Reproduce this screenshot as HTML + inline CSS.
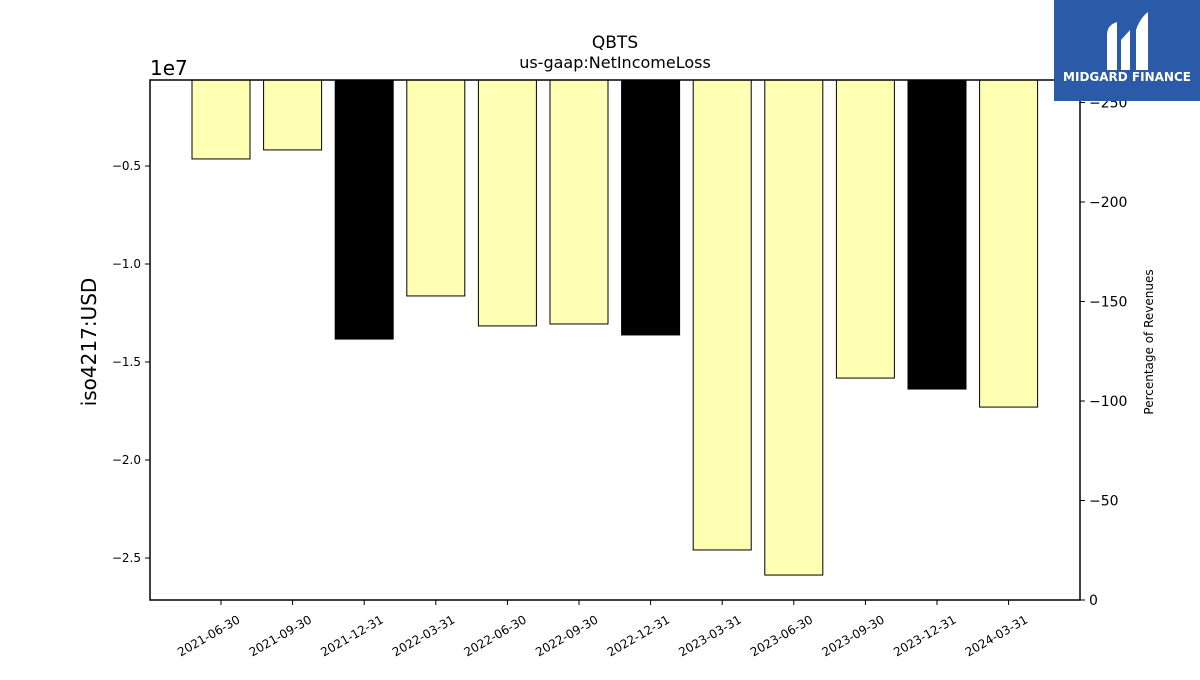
<!DOCTYPE html>
<html><head><meta charset="utf-8"><style>
body{margin:0;background:#fff;width:1200px;height:675px;overflow:hidden;font-family:"Liberation Sans","DejaVu Sans",sans-serif}
</style></head><body>
<svg id="chart" width="1200" height="675" xmlns="http://www.w3.org/2000/svg" font-family="DejaVu Sans, Liberation Sans, sans-serif">
<text x="615" y="48" text-anchor="middle" font-size="17">QBTS</text>
<text x="615" y="68" text-anchor="middle" font-size="16">us-gaap:NetIncomeLoss</text>
<text x="150" y="75" font-size="20">1e7</text>
<text transform="translate(96,342) rotate(-90)" text-anchor="middle" font-size="20">iso4217:USD</text>
<text transform="translate(1153,342) rotate(-90)" text-anchor="middle" font-size="12">Percentage of Revenues</text>
<g id="bars"></g><g id="axes"></g>
<g>
<rect x="1054" y="0" width="146" height="101" fill="#2b5aa8"/>
<path d="M1107 70 V35 Q1107 25 1117 22 V70 Z M1121 40 L1130 30 V70 H1121 Z M1136 30 Q1140 18 1148 12 V70 H1136 Z" fill="#fff"/>
<text x="1127" y="81" text-anchor="middle" font-size="12" font-weight="bold" fill="#fff">MIDGARD FINANCE</text>
</g>
</svg>
<script>
const categories=["2021-06-30","2021-09-30","2021-12-31","2022-03-31","2022-06-30","2022-09-30","2022-12-31","2023-03-31","2023-06-30","2023-09-30","2023-12-31","2024-03-31"];
const values=[-0.464,-0.418,-1.383,-1.163,-1.316,-1.306,-1.362,-2.459,-2.587,-1.582,-1.638,-1.730];
const leftTicks=[-0.5,-1.0,-1.5,-2.0,-2.5];
const rightTicks=[0,-50,-100,-150,-200,-250];
const NS="http://www.w3.org/2000/svg";
const L=150,R=1080,T=80,B=600;
const y=v=>68-v*196;
const y2=v=>600+v*1.99;
const x=i=>221+i*71.6;
const bars=document.getElementById('bars'),axes=document.getElementById('axes');
function mk(p,t,a){const e=document.createElementNS(NS,t);for(const k in a)e.setAttribute(k,a[k]);p.appendChild(e);return e;}
values.forEach((v,i)=>{
 const black=categories[i].endsWith("12-31");
 const r=mk(bars,'rect',{x:x(i)-29,y:T,width:58,height:y(v)-T,fill:black?'#000':'#ffffb3',stroke:'#000','stroke-width':1});
 
 
 const tk=mk(axes,'line',{x1:x(i),x2:x(i),y1:B,y2:B+5,stroke:'#000'});
 const t=mk(axes,'text',{x:x(i)+20,y:B+22,'font-size':12,'text-anchor':'end',transform:`rotate(-30 ${x(i)+20} ${B+22})`});
 t.textContent=categories[i];
 
 
});
leftTicks.forEach(v=>{
 mk(axes,'line',{x1:L-5,x2:L,y1:y(v),y2:y(v),stroke:'#000'});
 const t=mk(axes,'text',{x:L-9,y:y(v)+4,'font-size':12,'text-anchor':'end'});
 t.textContent=v.toFixed(1).replace('-','\u2212');
 
 
});
rightTicks.forEach(v=>{
 mk(axes,'line',{x1:R,x2:R+5,y1:y2(v),y2:y2(v),stroke:'#000'});
 const t=mk(axes,'text',{x:R+9,y:y2(v)+5,'font-size':14});
 t.textContent=String(v).replace('-','\u2212');
 
 
});
const f=mk(axes,'rect',{x:L,y:T,width:R-L,height:B-T,fill:'none',stroke:'#000','stroke-width':1.5});


</script>
</body></html>
